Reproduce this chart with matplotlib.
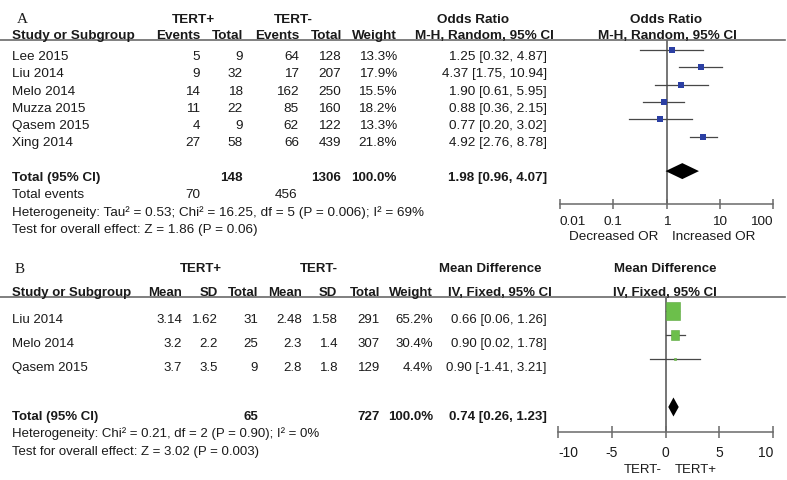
import matplotlib
matplotlib.use('Agg')
import matplotlib.pyplot as plt
from matplotlib import font_manager
from matplotlib.path import Path

# ---- panel A: odds ratio, TERT+ vs TERT- ----
studies_a = ['Lee 2015', 'Liu 2014', 'Melo 2014', 'Muzza 2015', 'Qasem 2015', 'Xing 2014']
events_pos = [5, 9, 14, 11, 4, 27]
total_pos = [9, 32, 18, 22, 9, 58]
events_neg = [64, 17, 162, 85, 62, 66]
total_neg = [128, 207, 250, 160, 122, 439]
weight_a = [13.3, 17.9, 15.5, 18.2, 13.3, 21.8]
or_est = [1.25, 4.37, 1.90, 0.88, 0.77, 4.92]
or_lo = [0.32, 1.75, 0.61, 0.36, 0.20, 2.76]
or_hi = [4.87, 10.94, 5.95, 2.15, 3.02, 8.78]
total_a = {'pos': 148, 'neg': 1306, 'ev_pos': 70, 'ev_neg': 456,
           'est': 1.98, 'lo': 0.96, 'hi': 4.07}
het_a = 'Heterogeneity: Tau\u00b2 = 0.53; Chi\u00b2 = 16.25, df = 5 (P = 0.006); I\u00b2 = 69%'
effect_a = 'Test for overall effect: Z = 1.86 (P = 0.06)'
ticks_a = [0.01, 0.1, 1, 10, 100]
tick_labels_a = ['0.01', '0.1', '1', '10', '100']

# ---- panel B: mean difference ----
studies_b = ['Liu 2014', 'Melo 2014', 'Qasem 2015']
mean_pos = ['3.14', '3.2', '3.7']
sd_pos = ['1.62', '2.2', '3.5']
n_pos = [31, 25, 9]
mean_neg = ['2.48', '2.3', '2.8']
sd_neg = ['1.58', '1.4', '1.8']
n_neg = [291, 307, 129]
weight_b = [65.2, 30.4, 4.4]
md_est = [0.66, 0.90, 0.90]
md_lo = [0.06, 0.02, -1.41]
md_hi = [1.26, 1.78, 3.21]
total_b = {'pos': 65, 'neg': 727, 'est': 0.74, 'lo': 0.26, 'hi': 1.23}
het_b = 'Heterogeneity: Chi\u00b2 = 0.21, df = 2 (P = 0.90); I\u00b2 = 0%'
effect_b = 'Test for overall effect: Z = 3.02 (P = 0.003)'
ticks_b = [-10, -5, 0, 5, 10]
tick_labels_b = ['-10', '-5', '0', '5', '10']

W, H = 787, 481
INK = '#1a1a1a'
GREY = '#6a6a6a'
CI_COL = '#474747'
BLUE = '#2b3fa3'
GREEN = '#6cbf4b'

installed = {f.name for f in font_manager.fontManager.ttflist}
FONT_A = 'Liberation Sans' if 'Liberation Sans' in installed else 'DejaVu Sans'
if 'Liberation Sans Narrow' in installed:
    FONT_B, SIZE_B, TICK_B = 'Liberation Sans Narrow', 11.2, 12
else:
    FONT_B, SIZE_B, TICK_B = FONT_A, 9.5, 10
SIZE_A = 9.7
plt.rcParams['font.family'] = [FONT_A, 'DejaVu Sans']

fig = plt.figure(figsize=(W / 100, H / 100), dpi=100)
bg = fig.add_axes([0, 0, 1, 1])
bg.set_xlim(0, W)
bg.set_ylim(H, 0)
bg.axis('off')


def px_axes(x0, y0, x1, y1):
    return fig.add_axes([x0 / W, 1 - y1 / H, (x1 - x0) / W, (y1 - y0) / H])


def put(x, y, s, ha='left', bold=False, panel='A'):
    fam = FONT_A if panel == 'A' else FONT_B
    size = SIZE_A if panel == 'A' else SIZE_B
    bg.text(x, y, s, ha=ha, va='baseline', fontsize=size, family=[fam, 'DejaVu Sans'],
            fontweight='bold' if bold else 'normal', color=INK)


def row_a(i):
    return 51 + 17.3 * i


def row_b(i):
    return 312 + 24 * i


def end_labels_inward(ax):
    labels = ax.get_xticklabels()
    labels[0].set_horizontalalignment('left')
    labels[-1].set_horizontalalignment('right')


# ================= panel A table =================
bg.text(22, 23, 'A', ha='center', va='baseline', fontsize=11,
        family=['Liberation Serif', 'DejaVu Serif'], color=INK)
put(193, 23, 'TERT+', 'center', True)
put(293, 23, 'TERT-', 'center', True)
put(473, 23, 'Odds Ratio', 'center', True)
put(666, 23, 'Odds Ratio', 'center', True)
put(12, 39, 'Study or Subgroup', bold=True)
put(200, 39, 'Events', 'right', True)
put(243, 39, 'Total', 'right', True)
put(299, 39, 'Events', 'right', True)
put(342, 39, 'Total', 'right', True)
put(397, 39, 'Weight', 'right', True)
put(484, 39, 'M-H, Random, 95% CI', 'center', True)
put(667, 39, 'M-H, Random, 95% CI', 'center', True)
bg.plot([0, 785], [41, 41], color=GREY, lw=1.2)

for i, name in enumerate(studies_a):
    y = row_a(i) + 9
    put(12, y, name)
    put(200, y, str(events_pos[i]), 'right')
    put(243, y, str(total_pos[i]), 'right')
    put(299, y, str(events_neg[i]), 'right')
    put(341, y, str(total_neg[i]), 'right')
    put(397, y, f'{weight_a[i]:.1f}%', 'right')
    put(547, y, f'{or_est[i]:.2f} [{or_lo[i]:.2f}, {or_hi[i]:.2f}]', 'right')

y = row_a(7) + 9
put(12, y, 'Total (95% CI)', bold=True)
put(243, y, str(total_a['pos']), 'right', True)
put(341, y, str(total_a['neg']), 'right', True)
put(397, y, '100.0%', 'right', True)
put(547, y, f"{total_a['est']:.2f} [{total_a['lo']:.2f}, {total_a['hi']:.2f}]", 'right', True)
y = row_a(8) + 9
put(12, y, 'Total events')
put(200, y, str(total_a['ev_pos']), 'right')
put(297, y, str(total_a['ev_neg']), 'right')
put(12, row_a(9) + 9, het_a)
put(12, row_a(10) + 9, effect_a)

# ================= panel A forest =================
axA = px_axes(560, 41, 773, 205)
axA.patch.set_alpha(0)
axA.set_xscale('log')
axA.set_xlim(0.01, 100)
axA.set_ylim(205, 41)
for s in ['top', 'left', 'right']:
    axA.spines[s].set_visible(False)
axA.spines['bottom'].set_color(GREY)
axA.spines['bottom'].set_linewidth(1.1)
axA.set_yticks([])
axA.set_xticks(ticks_a)
axA.set_xticklabels(tick_labels_a)
axA.minorticks_off()
axA.tick_params(axis='x', direction='inout', length=7, width=1.1, color=GREY,
                labelsize=SIZE_A, pad=4.5, labelcolor=INK)
end_labels_inward(axA)
axA.axvline(1, color=GREY, lw=1.3, zorder=1)
for i in range(len(studies_a)):
    y = row_a(i)
    axA.plot([or_lo[i], or_hi[i]], [y, y], color=CI_COL, lw=0.9, zorder=2)
    side = 1.43 * weight_a[i] ** 0.5 * 0.72
    axA.scatter([or_est[i]], [y], marker='s', s=side ** 2, color=BLUE, lw=0, zorder=3)
yt = row_a(7)
axA.fill([total_a['lo'], total_a['est'], total_a['hi'], total_a['est']],
         [yt, yt - 8, yt, yt + 8], color='black', lw=0, zorder=3)
put(658, 240, 'Decreased OR', 'right')
put(672, 240, 'Increased OR', 'left')

# ================= panel B table =================
bg.text(20, 273, 'B', ha='center', va='baseline', fontsize=11,
        family=['Liberation Serif', 'DejaVu Serif'], color=INK)
put(201, 272, 'TERT+', 'center', True, 'B')
put(319, 272, 'TERT-', 'center', True, 'B')
put(490, 272, 'Mean Difference', 'center', True, 'B')
put(665, 272, 'Mean Difference', 'center', True, 'B')
put(12, 296, 'Study or Subgroup', bold=True, panel='B')
for x, lab in [(182, 'Mean'), (218, 'SD'), (258, 'Total'), (302, 'Mean'),
               (337, 'SD'), (380, 'Total'), (433, 'Weight')]:
    put(x, 296, lab, 'right', True, 'B')
put(500, 296, 'IV, Fixed, 95% CI', 'center', True, 'B')
put(665, 296, 'IV, Fixed, 95% CI', 'center', True, 'B')
bg.plot([0, 785], [298, 298], color=GREY, lw=1.2)

for i, name in enumerate(studies_b):
    y = row_b(i) + 11
    put(12, y, name, panel='B')
    put(182, y, mean_pos[i], 'right', panel='B')
    put(218, y, sd_pos[i], 'right', panel='B')
    put(258, y, str(n_pos[i]), 'right', panel='B')
    put(302, y, mean_neg[i], 'right', panel='B')
    put(338, y, sd_neg[i], 'right', panel='B')
    put(380, y, str(n_neg[i]), 'right', panel='B')
    put(433, y, f'{weight_b[i]:.1f}%', 'right', panel='B')
    put(547, y, f'{md_est[i]:.2f} [{md_lo[i]:.2f}, {md_hi[i]:.2f}]', 'right', panel='B')

y = row_b(4) + 12
put(12, y, 'Total (95% CI)', bold=True, panel='B')
put(258, y, str(total_b['pos']), 'right', True, 'B')
put(380, y, str(total_b['neg']), 'right', True, 'B')
put(433, y, '100.0%', 'right', True, 'B')
put(547, y, f"{total_b['est']:.2f} [{total_b['lo']:.2f}, {total_b['hi']:.2f}]", 'right', True, 'B')
put(12, 437, het_b, panel='B')
put(12, 455, effect_b, panel='B')

# ================= panel B forest =================
axB = px_axes(558, 298, 773, 433)
axB.patch.set_alpha(0)
axB.set_xlim(-10, 10)
axB.set_ylim(433, 298)
for s in ['top', 'left', 'right']:
    axB.spines[s].set_visible(False)
axB.spines['bottom'].set_color(GREY)
axB.spines['bottom'].set_linewidth(1.1)
axB.set_yticks([])
axB.set_xticks(ticks_b)
axB.set_xticklabels(tick_labels_b)
axB.tick_params(axis='x', direction='inout', length=9, width=1.1, color=GREY,
                labelsize=TICK_B, pad=5, labelcolor=INK)
for lbl in axB.get_xticklabels():
    lbl.set_family([FONT_B, 'DejaVu Sans'])
end_labels_inward(axB)
axB.axvline(0, color=GREY, lw=1.3, zorder=1)
box = Path([(-1, -1.35), (1, -1.35), (1, 1.35), (-1, 1.35), (-1, -1.35)],
           [Path.MOVETO, Path.LINETO, Path.LINETO, Path.LINETO, Path.CLOSEPOLY])
for i in range(len(studies_b)):
    y = row_b(i)
    axB.plot([md_lo[i], md_hi[i]], [y, y], color=CI_COL, lw=0.9, zorder=2)
    height = 0.47 * weight_b[i] ** 0.8 * 1.35 * 0.72
    axB.scatter([md_est[i]], [y], marker=box, s=height ** 2, color=GREEN,
                edgecolors='#5aa83c', linewidths=0.4, zorder=3)
yt = row_b(4)
axB.fill([total_b['lo'], total_b['est'], total_b['hi'], total_b['est']],
         [yt, yt - 9.5, yt, yt + 9.5], color='black', lw=0, zorder=3)
put(662, 473, 'TERT-', 'right', panel='B')
put(675, 473, 'TERT+', 'left', panel='B')

fig.savefig('out.png', dpi=100)
